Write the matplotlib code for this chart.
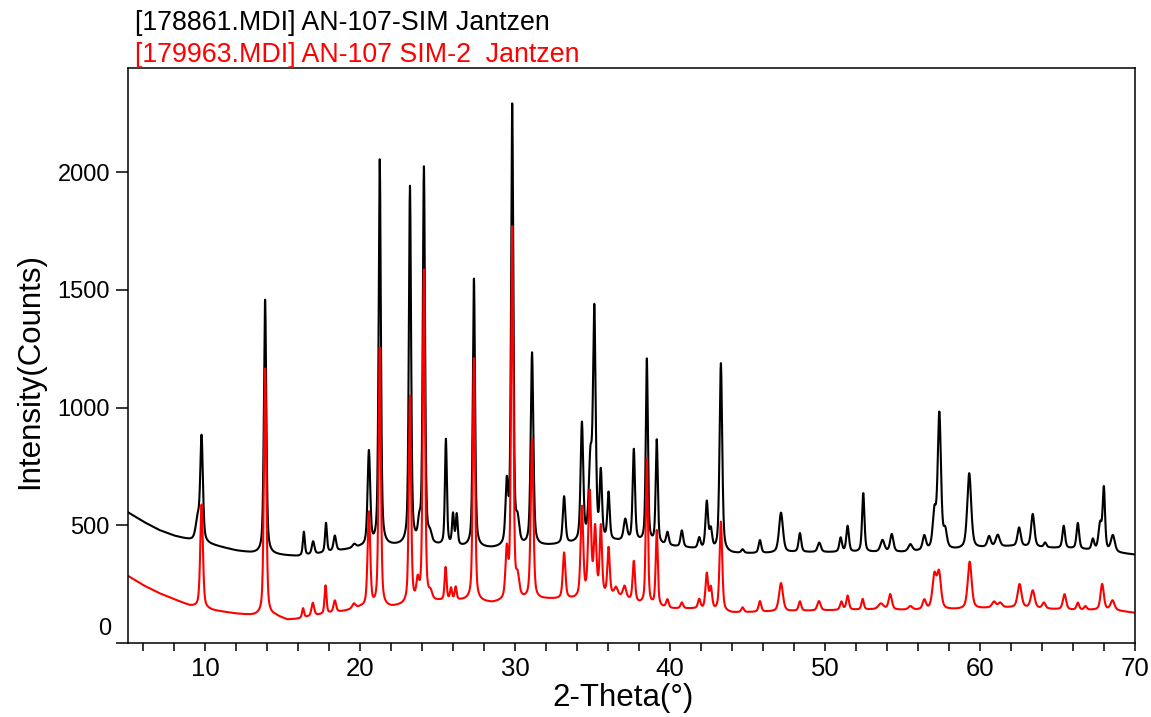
import numpy as np
import matplotlib
matplotlib.use("Agg")
import matplotlib.pyplot as plt
from matplotlib.ticker import MultipleLocator, FuncFormatter

plt.rcParams['font.family'] = ['Liberation Sans', 'DejaVu Sans']

# ---------------- data ----------------
title_black = "[178861.MDI] AN-107-SIM Jantzen"
title_red = "[179963.MDI] AN-107 SIM-2  Jantzen"
x_label = "2-Theta(°)"
y_label = "Intensity(Counts)"
y_ticks = [0, 500, 1000, 1500, 2000]
x_major = [10, 20, 30, 40, 50, 60, 70]

# background knots (2-theta, counts)
bg_black_x = [5, 6, 7, 8, 9, 10.5, 12, 13, 15, 16, 17, 19, 20, 22, 23, 25, 27, 28.5,
              30.5, 32, 33.8, 36.5, 38, 40, 41.5, 44, 46, 48, 50, 53, 55, 56.5, 58.5,
              60.5, 62, 64, 66, 68.5, 70]
bg_black_y = [555, 515, 480, 455, 437, 415, 392, 382, 372, 368, 375, 395, 405, 410, 412,
              410, 405, 400, 405, 412, 420, 430, 425, 410, 400, 380, 380, 385, 385, 385,
              385, 390, 395, 405, 410, 405, 400, 385, 375]

bg_red_x = [5, 6, 7, 8, 9, 10.5, 12, 13, 14.5, 15.3, 16, 17, 18, 19, 20, 22, 23, 25, 27,
            28.5, 30.5, 32, 33.8, 36.5, 38, 40, 41.5, 44, 46, 48, 50, 53, 55, 56.5, 58.5,
            60.5, 62, 64, 66, 68.5, 70]
bg_red_y = [285, 245, 212, 185, 158, 138, 124, 117, 115, 98, 102, 115, 125, 135, 150, 150,
            160, 175, 180, 168, 180, 185, 185, 200, 165, 145, 145, 128, 132, 135, 138, 142,
            140, 140, 142, 148, 150, 145, 140, 140, 128]

# peaks: position (2-theta), height above background (counts), FWHM (deg)
pk_black_pos = [9.5, 9.75, 13.85, 16.35, 16.95, 17.78, 18.35, 19.6, 20.55, 21.25, 23.2,
                23.8, 24.1, 24.5, 25.52, 25.98, 26.22, 27.33, 29.45, 29.8, 30.15, 31.08,
                33.15, 34.3, 34.85, 35.1, 35.52, 36.02, 37.1, 37.65, 38.49, 39.13, 39.82,
                40.75, 41.87, 42.36, 42.62, 43.27, 44.67, 45.79, 47.15, 48.37, 49.62,
                51.0, 51.45, 52.46, 53.7, 54.3, 55.5, 56.4, 57.05, 57.37, 57.75, 59.3,
                60.58, 61.14, 62.52, 63.4, 64.2, 65.4, 66.31, 67.28, 67.75, 67.99, 68.57]
pk_black_amp = [90, 440, 1080, 100, 55, 125, 65, 15, 400, 1640, 1520, 70, 1600, 35, 450,
                130, 130, 1140, 250, 1870, 90, 820, 200, 500, 330, 960, 280, 200, 90, 390,
                780, 440, 55, 70, 45, 200, 80, 800, 15, 55, 170, 80, 40, 60, 110, 250, 50,
                75, 30, 60, 150, 575, 70, 320, 45, 50, 80, 140, 20, 95, 110, 45, 110, 260, 70]
pk_black_w = [0.3, 0.2, 0.18, 0.15, 0.2, 0.15, 0.2, 0.25, 0.2, 0.17, 0.17, 0.2, 0.17, 0.25,
              0.15, 0.15, 0.15, 0.17, 0.2, 0.17, 0.25, 0.2, 0.2, 0.2, 0.25, 0.2, 0.18, 0.18,
              0.25, 0.18, 0.16, 0.16, 0.2, 0.2, 0.2, 0.2, 0.2, 0.2, 0.2, 0.2, 0.3, 0.2, 0.25,
              0.2, 0.2, 0.18, 0.3, 0.25, 0.3, 0.25, 0.25, 0.25, 0.25, 0.3, 0.25, 0.3, 0.25,
              0.25, 0.2, 0.2, 0.2, 0.2, 0.25, 0.18, 0.3]

pk_red_pos = [9.75, 13.85, 16.3, 16.93, 17.75, 18.35, 19.58, 20.55, 21.25, 23.2, 23.7,
              24.1, 24.53, 25.5, 25.85, 26.15, 27.33, 29.45, 29.8, 30.15, 31.08, 33.15,
              34.3, 34.8, 35.15, 35.52, 36.02, 36.5, 37.05, 37.65, 38.49, 39.13, 39.82,
              40.75, 41.87, 42.36, 42.62, 43.27, 44.67, 45.79, 47.15, 48.37, 49.6, 51.05,
              51.45, 52.42, 53.6, 54.2, 55.5, 56.4, 57.05, 57.35, 59.33, 60.9, 61.3, 62.55,
              63.4, 64.12, 65.45, 66.31, 66.8, 67.88, 68.55]
pk_red_amp = [440, 1050, 40, 55, 120, 50, 20, 400, 1100, 880, 80, 1410, 30, 140, 50, 55,
              1030, 200, 1580, 80, 680, 195, 380, 440, 280, 290, 200, 30, 50, 170, 620, 320,
              35, 25, 40, 150, 90, 380, 20, 45, 120, 40, 40, 35, 60, 45, 25, 65, 15, 40, 140,
              150, 200, 25, 20, 100, 75, 25, 65, 30, 15, 110, 40]
pk_red_w = [0.2, 0.18, 0.15, 0.2, 0.15, 0.2, 0.25, 0.2, 0.17, 0.17, 0.2, 0.17, 0.25, 0.15,
            0.15, 0.15, 0.17, 0.2, 0.17, 0.25, 0.2, 0.2, 0.2, 0.22, 0.2, 0.18, 0.18, 0.25,
            0.25, 0.18, 0.16, 0.16, 0.2, 0.2, 0.2, 0.2, 0.2, 0.2, 0.2, 0.2, 0.3, 0.2, 0.25,
            0.2, 0.2, 0.18, 0.4, 0.25, 0.3, 0.25, 0.3, 0.3, 0.3, 0.3, 0.3, 0.3, 0.3, 0.25,
            0.25, 0.2, 0.2, 0.25, 0.3]


def pattern(bx, by, pos, amp, fwhm, two_theta):
    y = np.interp(two_theta, bx, by)
    for p, a, w in zip(pos, amp, fwhm):
        d = (two_theta - p) / (w / 2.0)
        y = y + a * (0.5 / (1.0 + d ** 2) + 0.5 * np.exp(-np.log(2) * d ** 2))
    return y


tt = np.arange(5.0, 70.0001, 0.01)
black = pattern(bg_black_x, bg_black_y, pk_black_pos, pk_black_amp, pk_black_w, tt)
red = pattern(bg_red_x, bg_red_y, pk_red_pos, pk_red_amp, pk_red_w, tt)

# ---------------- figure ----------------
W, H = 1151, 717
fig = plt.figure(figsize=(W / 100, H / 100), dpi=100)
L, R, T, B = 128, 1135, 68, 643
ax = fig.add_axes([L / W, 1 - B / H, (R - L) / W, (B - T) / H])

ax.plot(tt, black, color='black', lw=1.5)
ax.plot(tt, red, color='#ff0000', lw=1.5)

ax.set_xlim(5, 70)
ax.set_ylim(0, 2443)

for s in ax.spines.values():
    s.set_linewidth(1.1)

XTICK_FS = 18.5
YTICK_FS = 17
ax.xaxis.set_major_locator(MultipleLocator(2))
ax.xaxis.set_major_formatter(FuncFormatter(lambda v, p: f"{int(round(v))}" if int(round(v)) in x_major else ""))
ax.set_yticks(y_ticks)
ax.set_yticklabels(["" if v == 0 else str(v) for v in y_ticks])
ax.tick_params(axis='x', direction='out', length=6, width=1.1, labelsize=XTICK_FS, pad=4)
ax.tick_params(axis='y', direction='out', length=9, width=1.1, labelsize=YTICK_FS, pad=4)
ax.annotate("0", xy=(0, 0), xycoords=('axes fraction', 'data'), xytext=(-12, 10),
            textcoords='offset points', ha='right', va='center', fontsize=YTICK_FS)

ax.set_xlabel(x_label, fontsize=22.5)
ax.set_ylabel(y_label, fontsize=22.5)
ax.xaxis.label.set_va('center')
ax.yaxis.label.set_va('center')
ax.xaxis.set_label_coords((623 - L) / (R - L), (B - 698) / (B - T))
ax.yaxis.set_label_coords((30 - L) / (R - L), (B - 371) / (B - T))

fig.text(135 / W, 1 - 30 / H, title_black, color='black', fontsize=19.3, ha='left', va='baseline')
fig.text(135 / W, 1 - 62 / H, title_red, color='#ff0000', fontsize=19.3, ha='left', va='baseline')

fig.savefig("out.png", dpi=100)
